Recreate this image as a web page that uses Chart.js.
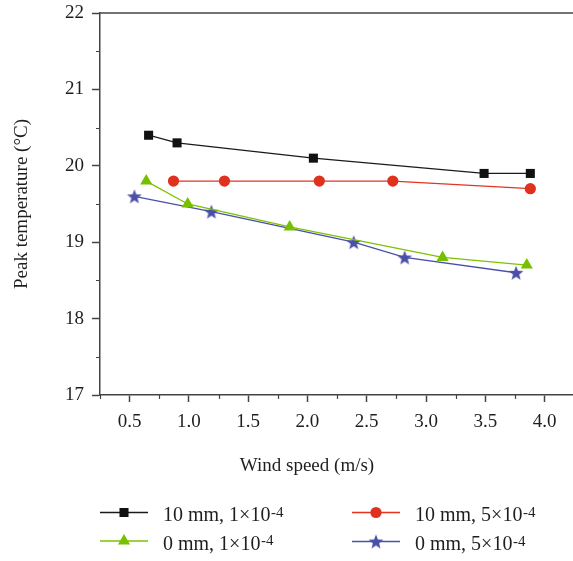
<!DOCTYPE html>
<html><head><meta charset="utf-8">
<script src="https://cdn.jsdelivr.net/npm/chart.js@4.4.0/dist/chart.umd.min.js"></script>
<style>html,body{margin:0;padding:0;background:#fff}#wrap{width:573px;height:561px;position:relative}</style>
</head><body><div id="wrap"><canvas id="c" width="573" height="561"></canvas></div>
<script>
// ---- data ----
const seriesLabels = ['10 mm, 1\u00d710', '10 mm, 5\u00d710', '0 mm, 1\u00d710', '0 mm, 5\u00d710'];
const seriesExponents = ['-4', '-4', '-4', '-4'];
const black_x = [0.66, 0.90, 2.05, 3.49, 3.88];
const black_y = [20.4, 20.3, 20.1, 19.9, 19.9];
const red_x = [0.87, 1.30, 2.10, 2.72, 3.88];
const red_y = [19.8, 19.8, 19.8, 19.8, 19.7];
const green_x = [0.64, 0.99, 1.85, 3.14, 3.85];
const green_y = [19.8, 19.5, 19.2, 18.8, 18.7];
const blue_x = [0.54, 1.19, 2.39, 2.82, 3.76];
const blue_y = [19.6, 19.4, 19.0, 18.8, 18.6];
const xTickValues = [0.5, 1.0, 1.5, 2.0, 2.5, 3.0, 3.5, 4.0];
const xMinorValues = [0.25, 0.75, 1.25, 1.75, 2.25, 2.75, 3.25, 3.75];
const yTickValues = [17, 18, 19, 20, 21, 22];
const yMinorValues = [17.5, 18.5, 19.5, 20.5, 21.5];
const xTitle = 'Wind speed (m/s)';
const yTitle = 'Peak temperature (\u00b0C)';

const FONT = "'Liberation Serif', 'Times New Roman', serif";
const AXIS = '#444';
const TXT = '#1e1e1e';

function pts(xs, ys) { return xs.map((x, i) => ({x: x, y: ys[i]})); }

// filled five-point star image for the blue series
function makeStar(color, size) {
  const c = document.createElement('canvas');
  c.width = size; c.height = size;
  const g = c.getContext('2d');
  const cx = size / 2, cy = size / 2 + 0.7, R = size / 2 - 0.3, r = R * 0.42;
  g.beginPath();
  for (let i = 0; i < 10; i++) {
    const a = -Math.PI / 2 + i * Math.PI / 5;
    const rr = i % 2 === 0 ? R : r;
    g.lineTo(cx + rr * Math.cos(a), cy + rr * Math.sin(a));
  }
  g.closePath();
  g.fillStyle = color;
  g.fill();
  return c;
}
const BLUE = '#4a4fa8';
const starImg = makeStar(BLUE, 16);

const datasets = [
  {label: seriesLabels[0], data: pts(black_x, black_y), borderColor: '#1a1a1a', backgroundColor: '#111',
   pointStyle: 'rect', pointRadius: 6.4, borderWidth: 1.3, pointBorderWidth: 0},
  {label: seriesLabels[1], data: pts(red_x, red_y), borderColor: '#e2341f', backgroundColor: '#e0301e',
   pointStyle: 'circle', pointRadius: 5.6, borderWidth: 1.3, pointBorderWidth: 0},
  {label: seriesLabels[2], data: pts(green_x, green_y), borderColor: '#7cc200', backgroundColor: '#76c000',
   pointStyle: 'triangle', pointRadius: 7, borderWidth: 1.3, pointBorderWidth: 0},
  {label: seriesLabels[3], data: pts(blue_x, blue_y), borderColor: BLUE, backgroundColor: BLUE,
   pointStyle: starImg, pointRadius: 8, borderWidth: 1.3, pointBorderWidth: 0}
];
datasets.forEach(d => { d.tension = 0; d.fill = false; d.clip = false; d.pointHoverRadius = d.pointRadius; });

const extras = {
  id: 'extras',
  afterDraw(chart) {
    const ctx = chart.ctx;
    const xs = chart.scales.x, ys = chart.scales.y;
    const ca = chart.chartArea;
    ctx.save();
    ctx.strokeStyle = AXIS;
    ctx.lineWidth = 1.5;
    // top border
    ctx.beginPath();
    ctx.moveTo(ca.left, ca.top);
    ctx.lineTo(ca.right, ca.top);
    ctx.stroke();
    // minor ticks
    ctx.lineWidth = 1.2;
    ctx.beginPath();
    xMinorValues.forEach(v => {
      const px = Math.round(xs.getPixelForValue(v)) + 0.5;
      ctx.moveTo(px, ca.bottom);
      ctx.lineTo(px, ca.bottom + 4);
    });
    yMinorValues.forEach(v => {
      const py = Math.round(ys.getPixelForValue(v)) + 0.5;
      ctx.moveTo(ca.left, py);
      ctx.lineTo(ca.left - 4, py);
    });
    ctx.stroke();
    // x title
    ctx.fillStyle = TXT;
    ctx.font = '19px ' + FONT;
    ctx.textAlign = 'center';
    ctx.textBaseline = 'middle';
    ctx.fillText(xTitle, 307, 466);
    // legend
    const slots = [
      {lx: 100, y: 512.5}, {lx: 352, y: 512.5},
      {lx: 100, y: 541}, {lx: 352, y: 541.5}
    ];
    chart.data.datasets.forEach((ds, i) => {
      const s = slots[i];
      ctx.strokeStyle = ds.borderColor;
      ctx.lineWidth = 1.3;
      ctx.beginPath();
      ctx.moveTo(s.lx, s.y);
      ctx.lineTo(s.lx + 48, s.y);
      ctx.stroke();
      ctx.fillStyle = ds.backgroundColor;
      Chart.helpers.drawPoint(ctx, {pointStyle: ds.pointStyle, radius: ds.pointRadius, rotation: 0, borderWidth: 0}, s.lx + 24, s.y);
      ctx.fillStyle = TXT;
      ctx.textAlign = 'left';
      ctx.textBaseline = 'alphabetic';
      ctx.font = '20px ' + FONT;
      const tx = s.lx + 63;
      const base = s.y + 8.5;
      ctx.fillText(ds.label, tx, base);
      const w = ctx.measureText(ds.label).width;
      ctx.font = '15px ' + FONT;
      ctx.fillText(seriesExponents[i], tx + w + 0.5, base - 4.5);
    });
    ctx.restore();
  }
};

new Chart(document.getElementById('c'), {
  type: 'line',
  data: {datasets: datasets},
  plugins: [extras],
  options: {
    responsive: false,
    animation: false,
    devicePixelRatio: 1,
    layout: {autoPadding: false, padding: {top: 13, right: 0, left: 0, bottom: 81}},
    plugins: {legend: {display: false}, tooltip: {enabled: false}},
    scales: {
      x: {
        type: 'linear', min: 0.25, max: 4.24,
        afterBuildTicks: s => { s.ticks = xTickValues.map(v => ({value: v})); },
        afterFit: s => { s.height = 85; s.paddingLeft = 0; s.paddingRight = 0; },
        ticks: {autoSkip: false, maxRotation: 0, padding: 9, color: TXT,
                font: {family: FONT, size: 19}, callback: v => Number(v).toFixed(1)},
        grid: {drawOnChartArea: false, drawTicks: true, tickLength: 7, color: AXIS, tickWidth: 1.5},
        border: {display: true, color: AXIS, width: 1.5}
      },
      y: {
        type: 'linear', min: 17, max: 22,
        afterBuildTicks: s => { s.ticks = yTickValues.map(v => ({value: v})); },
        afterFit: s => { s.width = 100; s.paddingTop = 0; s.paddingBottom = 0; },
        ticks: {padding: 8, color: TXT, font: {family: FONT, size: 19}, callback: v => String(v)},
        grid: {drawOnChartArea: false, drawTicks: true, tickLength: 8, color: AXIS, tickWidth: 1.5},
        border: {display: true, color: AXIS, width: 1.5},
        title: {display: true, text: yTitle, color: TXT, font: {family: FONT, size: 19}, padding: {top: 11, bottom: 0}}
      }
    }
  }
});
</script>
</body></html>
